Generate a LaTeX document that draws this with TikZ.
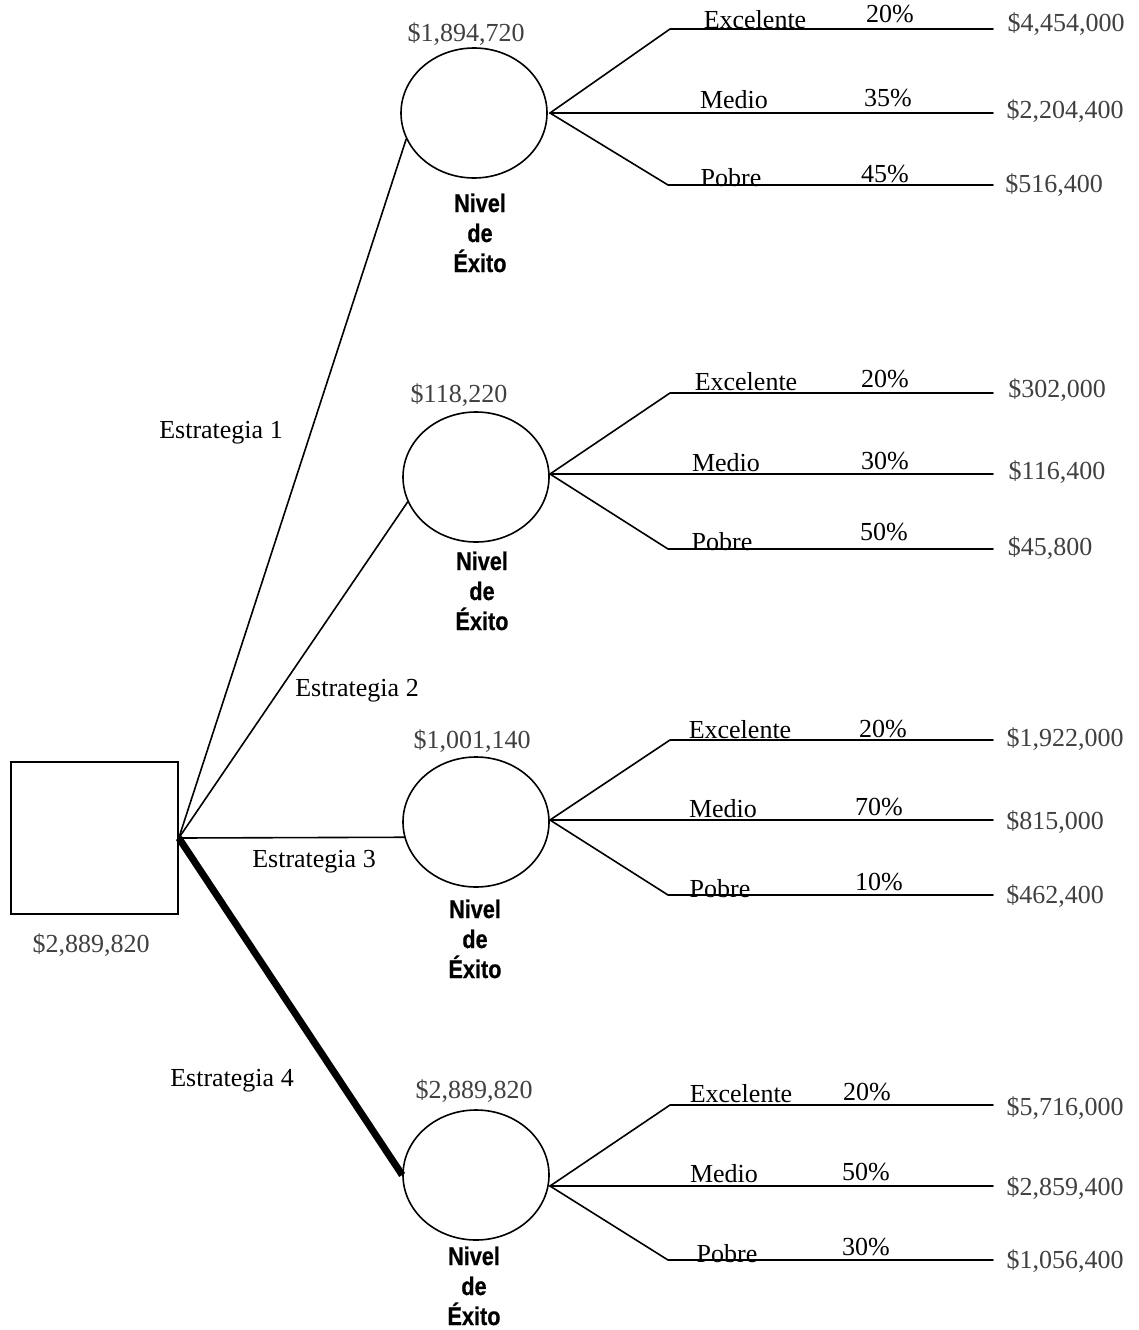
\documentclass[tikz,border=0pt]{standalone}
\usepackage{fontspec}
\setmainfont{Liberation Serif}
\newfontfamily\nsans[FakeStretch=0.85,FakeBold=0.6]{Liberation Sans}
\usetikzlibrary{shapes.geometric}
\definecolor{valgray}{gray}{0.25}
\tikzset{
  ln/.style={line width=1.6pt, line cap=round, line join=round},
  chance/.style={draw, ellipse, line width=1.6pt, minimum width=146pt, minimum height=130pt, inner sep=0pt},
  decision/.style={draw, rectangle, line width=1.6pt, minimum width=167pt, minimum height=152pt, inner sep=0pt},
  lbl/.style={anchor=base, inner sep=0pt, font=\fontsize{26}{30}\selectfont},
  val/.style={lbl, text=valgray},
  nivel/.style={anchor=base, inner sep=0pt, font=\nsans\bfseries\fontsize{25.5}{30}\selectfont, align=center}
}
\begin{document}
\begin{tikzpicture}[x=1pt,y=-1pt]
\useasboundingbox (0,0) rectangle (1138,1330);
\fill[white] (0,0) rectangle (1138,1330);

% nodes
\node[decision] (sq) at (94.5,838) {};
\node[chance] (c1) at (474,113) {};
\node[chance] (c2) at (476,477) {};
\node[chance] (c3) at (476,822) {};
\node[chance] (c4) at (476,1175) {};

% texts (drawn before branch lines)
\node[val] (v0) at (91,952) {\$2,889,820};
\node[val] (v1) at (466,42) {\$1,894,720};
\node[val] (v2) at (459,402) {\$118,220};
\node[val] (v3) at (472,748) {\$1,001,140};
\node[val] (v4) at (474,1098) {\$2,889,820};

\node[lbl] (s1) at (221,438) {Estrategia 1};
\node[lbl] (s2) at (357,696) {Estrategia 2};
\node[lbl] (s3) at (314,867) {Estrategia 3};
\node[lbl] (s4) at (232,1086) {Estrategia 4};

\node[nivel] (n1a) at (480,212) {Nivel};
\node[nivel] (n1b) at (480,242) {de};
\node[nivel] (n1c) at (480,272) {Éxito};
\node[nivel] (n2a) at (482,570) {Nivel};
\node[nivel] (n2b) at (482,600) {de};
\node[nivel] (n2c) at (482,630) {Éxito};
\node[nivel] (n3a) at (475,918) {Nivel};
\node[nivel] (n3b) at (475,948) {de};
\node[nivel] (n3c) at (475,978) {Éxito};
\node[nivel] (n4a) at (474,1265) {Nivel};
\node[nivel] (n4b) at (474,1295) {de};
\node[nivel] (n4c) at (474,1325) {Éxito};

% branch labels circle 1
\node[lbl] (t1e) at (755,29) {Excelente};
\node[lbl] (p1e) at (890,23) {20\%};
\node[val] (r1e) at (1066,32) {\$4,454,000};
\node[lbl] (t1m) at (734,108) {Medio};
\node[lbl] (p1m) at (888,106) {35\%};
\node[val] (r1m) at (1065,118) {\$2,204,400};
\node[lbl] (t1p) at (731,186) {Pobre};
\node[lbl] (p1p) at (885,182) {45\%};
\node[val] (r1p) at (1054,192) {\$516,400};

% circle 2
\node[lbl] (t2e) at (746,390) {Excelente};
\node[lbl] (p2e) at (885,387) {20\%};
\node[val] (r2e) at (1057,397) {\$302,000};
\node[lbl] (t2m) at (726,471) {Medio};
\node[lbl] (p2m) at (885,469) {30\%};
\node[val] (r2m) at (1057,479) {\$116,400};
\node[lbl] (t2p) at (722,550) {Pobre};
\node[lbl] (p2p) at (884,540) {50\%};
\node[val] (r2p) at (1050,555) {\$45,800};

% circle 3
\node[lbl] (t3e) at (740,738) {Excelente};
\node[lbl] (p3e) at (883,737) {20\%};
\node[val] (r3e) at (1065,746) {\$1,922,000};
\node[lbl] (t3m) at (723,817) {Medio};
\node[lbl] (p3m) at (879,815) {70\%};
\node[val] (r3m) at (1055,829) {\$815,000};
\node[lbl] (t3p) at (720,897) {Pobre};
\node[lbl] (p3p) at (879,890) {10\%};
\node[val] (r3p) at (1055,903) {\$462,400};

% circle 4
\node[lbl] (t4e) at (741,1102) {Excelente};
\node[lbl] (p4e) at (867,1100) {20\%};
\node[val] (r4e) at (1065,1115) {\$5,716,000};
\node[lbl] (t4m) at (724,1182) {Medio};
\node[lbl] (p4m) at (866,1180) {50\%};
\node[val] (r4m) at (1065,1195) {\$2,859,400};
\node[lbl] (t4p) at (727,1262) {Pobre};
\node[lbl] (p4p) at (866,1255) {30\%};
\node[val] (r4p) at (1065,1268) {\$1,056,400};

% strategy connectors
\draw[ln] (sq.east) -- (c1.201);
\draw[ln] (sq.east) -- (c2.200);
\draw[ln] (sq.east) -- (c3.192);
\draw[line width=7pt] (sq.east) -- (c4.west);

% branch coordinates
\coordinate (b1) at (550,113);
\coordinate (b2) at (550,474);
\coordinate (b3) at (550,820);
\coordinate (b4) at (550,1186);
\coordinate (k1e) at (670,29);   \coordinate (x1e) at (993,29);
\coordinate (x1m) at (993,113);
\coordinate (k1p) at (668,185);  \coordinate (x1p) at (993,185);
\coordinate (k2e) at (670,393);  \coordinate (x2e) at (993,393);
\coordinate (x2m) at (993,474);
\coordinate (k2p) at (668,549);  \coordinate (x2p) at (993,549);
\coordinate (k3e) at (670,740);  \coordinate (x3e) at (993,740);
\coordinate (x3m) at (993,820);
\coordinate (k3p) at (668,895);  \coordinate (x3p) at (993,895);
\coordinate (k4e) at (670,1105); \coordinate (x4e) at (993,1105);
\coordinate (x4m) at (993,1186);
\coordinate (k4p) at (668,1260); \coordinate (x4p) at (993,1260);

\draw[ln] (b1) -- (k1e) -- (x1e);
\draw[ln] (b1) -- (x1m);
\draw[ln] (b1) -- (k1p) -- (x1p);
\draw[ln] (b2) -- (k2e) -- (x2e);
\draw[ln] (b2) -- (x2m);
\draw[ln] (b2) -- (k2p) -- (x2p);
\draw[ln] (b3) -- (k3e) -- (x3e);
\draw[ln] (b3) -- (x3m);
\draw[ln] (b3) -- (k3p) -- (x3p);
\draw[ln] (b4) -- (k4e) -- (x4e);
\draw[ln] (b4) -- (x4m);
\draw[ln] (b4) -- (k4p) -- (x4p);
\end{tikzpicture}
\end{document}
